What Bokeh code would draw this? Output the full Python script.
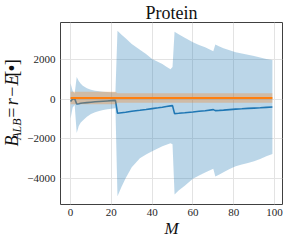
import math
from bokeh.plotting import figure
from bokeh.layouts import row
from bokeh.models import Range1d, FixedTicker
from bokeh.core.properties import value
from bokeh.embed import file_html
from bokeh.resources import INLINE

# ---- data ----
M = [0, 1, 2, 3, 4, 5, 6, 8, 10, 12, 14, 16, 18, 20, 22,
     23, 25, 27, 30, 34, 37, 40, 43, 45, 47, 49, 50,
     51, 53, 56, 60, 63, 66, 70,
     71, 73, 75, 78, 81, 84, 87, 90, 93, 96, 99]

blue_mean = [-120, 0, 20, -250, -235, -215, -200, -180, -160, -140, -125, -110, -95, -80, -65,
             -710, -685, -660, -615, -565, -525, -480, -440, -410, -375, -345, -330,
             -730, -715, -690, -650, -615, -585, -530,
             -580, -570, -555, -530, -505, -490, -470, -455, -440, -420, -400]

blue_upper = [780, 420, 280, 1100, 900, 760, 660, 540, 465, 420, 390, 370, 355, 345, 335,
              3420, 3220, 3040, 2760, 2470, 2250, 2000, 1850, 1750, 1620, 1490, 1600,
              3370, 3250, 3070, 2840, 2710, 2600, 2400,
              2730, 2630, 2540, 2440, 2340, 2285, 2220, 2150, 2080, 2010, 1950]

blue_lower = [-980, -420, -300, -1700, -1350, -1180, -1080, -890, -750, -660, -600, -550, -515, -490, -465,
              -4870, -4400, -3970, -3420, -2970, -2780, -2620, -2460, -2370, -2290, -2210, -2260,
              -4780, -4580, -4340, -4000, -3830, -3680, -3490,
              -3880, -3780, -3665, -3500, -3370, -3280, -3210, -3120, -3000, -2870, -2750]

orange_mean = [50] * 45
orange_upper = [370] * 15 + [290] * 30
orange_lower = [-260] * 15 + [-185] * 30

x_ticks = [0, 20, 40, 60, 80, 100]
y_ticks = [-4000, -2000, 0, 2000]
y_tick_labels = ["\u22124000", "\u22122000", "0", "2000"]

title_text = "Protein"
x_label_text = "M"
# y-axis label  B_{ALB} = r - E[bullet], split into its pieces
y_label_parts = ["B", "ALB", "=", "r", "\u2212", "E", "[", "\u2022", "]"]

BLUE = "#1f77b4"
ORANGE = "#ff7f0e"
SERIF = "Liberation Serif"
TXT = "#111111"

# matplotlib-like 5% margins
xspan = max(M) - min(M)
x0, x1 = min(M) - 0.05 * xspan, max(M) + 0.05 * xspan
ymin, ymax = min(blue_lower), max(blue_upper)
yspan = ymax - ymin
y0, y1 = ymin - 0.05 * yspan, ymax + 0.05 * yspan

LW = 23   # width of the strip holding the y-axis label
H = 241

p = figure(width=287 - LW, height=H, x_range=Range1d(x0, x1), y_range=Range1d(y0, y1),
           output_backend="svg", toolbar_location=None, title=title_text,
           min_border_left=60 - LW, min_border_right=5, min_border_top=21, min_border_bottom=37)
p.background_fill_color = "white"
p.border_fill_color = "white"
p.outline_line_color = "#404040"
p.outline_line_width = 1

p.title.align = "center"
p.title.text_font = SERIF
p.title.text_font_size = "18px"
p.title.text_font_style = "normal"
p.title.text_color = TXT
p.title.standoff = 0

p.varea(x=M, y1=blue_lower, y2=blue_upper, fill_color=BLUE, fill_alpha=0.3)
p.line(M, blue_mean, line_color=BLUE, line_width=1.6)
p.varea(x=M, y1=orange_lower, y2=orange_upper, fill_color=ORANGE, fill_alpha=0.3)
p.line(M, orange_mean, line_color=ORANGE, line_width=2)

p.xaxis.ticker = FixedTicker(ticks=x_ticks)
p.yaxis.ticker = FixedTicker(ticks=y_ticks)
p.yaxis.major_label_overrides = {t: l for t, l in zip(y_ticks, y_tick_labels)}
for ax in (p.xaxis, p.yaxis):
    ax.axis_line_color = None
    ax.major_tick_line_color = None
    ax.minor_tick_line_color = None
    ax.major_tick_out = 0
    ax.major_tick_in = 0
    ax.major_label_standoff = 5
    ax.major_label_text_font = SERIF
    ax.major_label_text_font_size = "11px"
    ax.major_label_text_color = "#262626"
p.xaxis.major_label_standoff = 4
p.xaxis.axis_label = x_label_text
p.xaxis.axis_label_text_font = SERIF
p.xaxis.axis_label_text_font_style = "italic"
p.xaxis.axis_label_text_font_size = "17px"
p.xaxis.axis_label_text_color = TXT
p.xaxis.axis_label_standoff = 0
p.grid.grid_line_color = "#e3e3e3"
p.grid.grid_line_width = 1

# strip on the left carrying the y-axis label (with its subscript); 1 unit = 1 px
lf = figure(width=LW, height=H, x_range=Range1d(0, LW), y_range=Range1d(0, H),
            x_axis_type=None, y_axis_type=None, output_backend="svg",
            toolbar_location=None, title=None, min_border=0)
lf.outline_line_color = None
lf.background_fill_color = "white"
lf.border_fill_color = "white"

# placement of the label pieces: text-box middle x, centre y (from bottom), size px, style
piece_layout = [
    (11.2, 84.0, 18, "italic"),
    (16.3, 99.7, 12, "italic"),
    (11.2, 121.5, 18, "normal"),
    (11.2, 136.0, 18, "italic"),
    (11.2, 149.5, 18, "normal"),
    (11.2, 165.0, 18, "italic"),
    (11.2, 173.3, 18, "normal"),
    (11.8, 180.8, 20, "normal"),
    (11.2, 188.3, 18, "normal"),
]
for txt, (lx, ly, fs, st) in zip(y_label_parts, piece_layout):
    lf.text(x=[lx], y=[ly], text=[txt], angle=math.pi / 2,
            text_align="center", text_baseline="middle",
            text_font=value(SERIF), text_font_size=value(f"{fs}px"),
            text_font_style=value(st), text_color=TXT)

layout = row(lf, p)
open("out.html", "w").write(file_html(layout, INLINE))
